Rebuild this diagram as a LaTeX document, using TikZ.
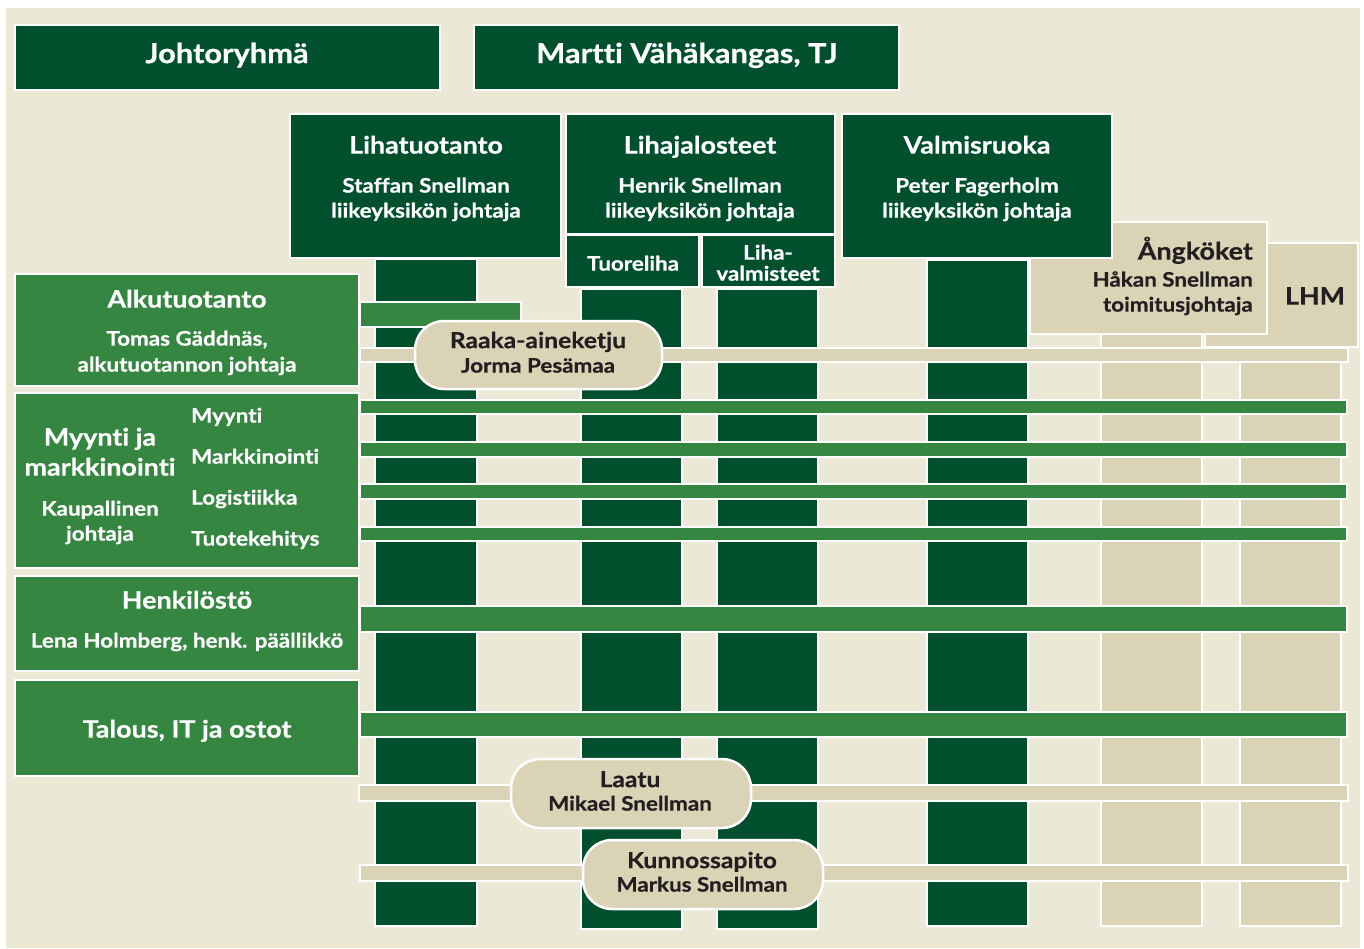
\documentclass[tikz,border=0pt]{standalone}
\usepackage{fontspec}
\setmainfont{Lato}[Ligatures=NoCommon, FakeStretch=1.12, FakeBold=0.6]
\definecolor{dkgreen}{RGB}{0,80,45}
\definecolor{mdgreen}{RGB}{53,134,64}
\definecolor{bgbeige}{RGB}{236,232,214}
\definecolor{tan}{RGB}{218,211,182}
\definecolor{ink}{RGB}{35,31,32}
\tikzset{
  dk/.style={fill=dkgreen, draw=white, line width=2pt},
  md/.style={fill=mdgreen, draw=white, line width=2pt},
  tn/.style={fill=tan, draw=white, line width=2pt},
  pill/.style={fill=tan, draw=white, line width=2.5pt, rounded corners=29pt},
  txt/.style={inner sep=0pt, text height=0.72em, text depth=0pt},
  wt/.style={txt, text=white, font=\bfseries},
  dt/.style={txt, text=ink, font=\bfseries},
  big/.append style={font=\bfseries\fontsize{27.5}{30}\selectfont, yshift=-5.5pt},
  hd/.append style={font=\bfseries\fontsize{24}{26}\selectfont, yshift=-5pt},
  ph/.append style={font=\bfseries\fontsize{22}{24}\selectfont, yshift=-4.5pt},
  sm/.append style={font=\bfseries\fontsize{20}{22}\selectfont, yshift=-4pt},
}
\begin{document}
\begin{tikzpicture}[x=1pt,y=-1pt]
\useasboundingbox (0,0) rectangle (1364,948);
\fill[white] (0,0) rectangle (1364,948);
\fill[bgbeige] (6,8) rectangle (1360,948);
% columns
\draw[dk] (375,259) rectangle (477,926);
\draw[dk] (581,289) rectangle (682,929);
\draw[dk] (717,289) rectangle (818,929);
\draw[dk] (927,260) rectangle (1028,926);
\draw[tn] (1101,334) rectangle (1202,926);
\draw[tn] (1240,347) rectangle (1341,926);
% top boxes
\draw[dk] (15,25) rectangle (440,90);
\draw[dk] (474,25) rectangle (899,90);
\draw[tn] (1205,243) rectangle (1358,347);
\draw[tn] (1030,222) rectangle (1267,334);
\draw[dk] (290,114) rectangle (561,258);
\draw[dk] (566,114) rectangle (835,234);
\draw[dk] (566,235) rectangle (699,287);
\draw[dk] (702,235) rectangle (835,287);
\draw[dk] (842,114) rectangle (1112,258);
% horizontal bars
\draw[md] (360,302) rectangle (521,327);
\draw[tn] (360,348) rectangle (1348,362);
\draw[md] (360,400) rectangle (1347,414);
\draw[md] (360,442) rectangle (1347,457);
\draw[md] (360,484) rectangle (1347,499);
\draw[md] (360,527) rectangle (1347,541);
\draw[md] (360,606) rectangle (1347,632);
\draw[md] (360,712) rectangle (1347,737);
\draw[tn] (359,785) rectangle (1348,801);
\draw[tn] (360,865) rectangle (1348,881);
% left boxes
\draw[md] (15,274) rectangle (359,386);
\draw[md] (15,393) rectangle (359,568);
\draw[md] (15,576) rectangle (359,671);
\draw[md] (15,680) rectangle (359,776);
% pills
\draw[pill] (415,321) rectangle (662,389);
\draw[pill] (511,759) rectangle (751,828);
\draw[pill] (583,840) rectangle (823,909);
% texts
\node[wt,big] (johto) at (227,54) {Johtoryhmä};
\node[wt,big] (tj) at (687,54) {Martti Vähäkangas, TJ};
\node[wt,hd] (liha) at (426,145) {Lihatuotanto};
\node[wt,sm] (lihaa) at (426,185) {Staffan Snellman};
\node[wt,sm] (lihab) at (426,210) {liikeyksikön johtaja};
\node[wt,hd] (jal) at (700,145) {Lihajalosteet};
\node[wt,sm] (jala) at (700,185) {Henrik Snellman};
\node[wt,sm] (jalb) at (700,210) {liikeyksikön johtaja};
\node[wt,hd] (val) at (977,145) {Valmisruoka};
\node[wt,sm] (vala) at (977,185) {Peter Fagerholm};
\node[wt,sm] (valb) at (977,210) {liikeyksikön johtaja};
\node[wt,sm] (tuore) at (633,263) {Tuoreliha};
\node[wt,sm] (valm1) at (768,252) {Liha-};
\node[wt,sm] (valm2) at (768,273) {valmisteet};
\node[dt,hd,anchor=east] (ang) at (1253,251) {Ångköket};
\node[dt,sm,anchor=east] (anga) at (1253,279) {Håkan Snellman};
\node[dt,sm,anchor=east] (angb) at (1253,304) {toimitusjohtaja};
\node[dt,hd] (lhm) at (1315,296) {LHM};
\node[wt,hd] (alku) at (187,299) {Alkutuotanto};
\node[wt,sm] (alkua) at (187,338) {Tomas Gäddnäs,};
\node[wt,sm] (alkub) at (187,364) {alkutuotannon johtaja};
\node[wt,hd] (myy1) at (100,437) {Myynti ja};
\node[wt,hd] (myy2) at (100,467) {markkinointi};
\node[wt,sm] (kau1) at (100,508) {Kaupallinen};
\node[wt,sm] (kau2) at (100,533) {johtaja};
\node[wt,sm,anchor=west] (m1) at (191,415) {Myynti};
\node[wt,sm,anchor=west] (m2) at (191,456) {Markkinointi};
\node[wt,sm,anchor=west] (m3) at (191,497) {Logistiikka};
\node[wt,sm,anchor=west] (m4) at (191,538) {Tuotekehitys};
\node[wt,hd] (henk) at (187,600) {Henkilöstö};
\node[wt,sm] (henka) at (187,640) {Lena Holmberg, henk. päällikkö};
\node[wt,hd] (tal) at (187,729) {Talous, IT ja ostot};
\node[dt,ph] (raaka) at (538,340) {Raaka-aineketju};
\node[dt,sm] (raakaa) at (538,365) {Jorma Pesämaa};
\node[dt,ph] (laatu) at (630,779) {Laatu};
\node[dt,sm] (laatua) at (630,803) {Mikael Snellman};
\node[dt,ph] (kunn) at (702,860) {Kunnossapito};
\node[dt,sm] (kunna) at (702,884) {Markus Snellman};
\end{tikzpicture}
\end{document}
